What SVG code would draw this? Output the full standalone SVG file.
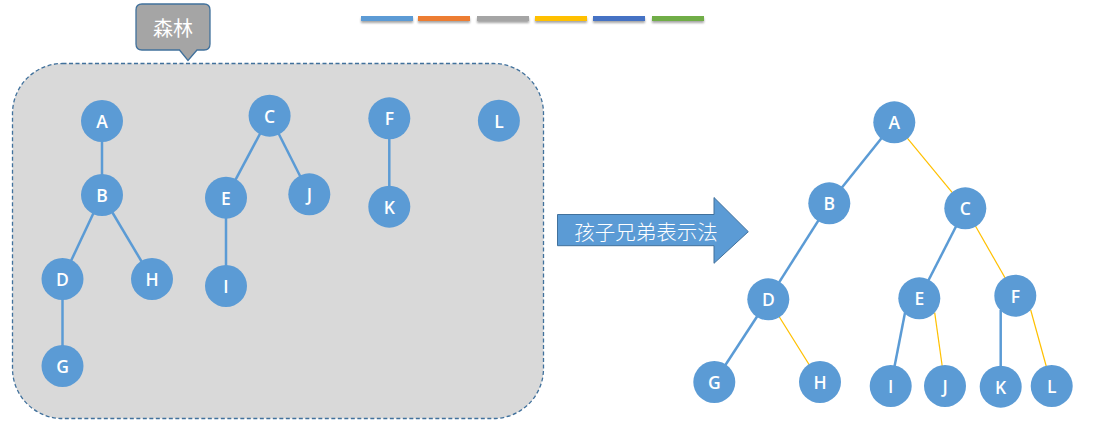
<svg xmlns="http://www.w3.org/2000/svg" width="1105" height="427" viewBox="0 0 1105 427">
<defs>
<style>
.n circle{fill:#5b9bd5;}
.n text{fill:#fff;font-family:"Open Sans","Liberation Sans",sans-serif;font-size:17.5px;font-weight:600;text-anchor:middle;dominant-baseline:central;}
.eb{stroke:#5b9bd5;stroke-width:2.5;fill:none;}
.ey{stroke:#ffc000;stroke-width:1.2;fill:none;}
.cjk{fill:#fff;font-family:"Noto Sans CJK SC","Liberation Sans",sans-serif;}
.bar{stroke:none;}
</style>
<filter id="sh" x="-10%" y="-50%" width="120%" height="250%">
<feDropShadow dx="0" dy="2" stdDeviation="1" flood-color="#000" flood-opacity="0.35"/>
</filter>
</defs>
<rect width="1105" height="427" fill="#fff"/>

<g id="legend" filter="url(#sh)">
<rect class="bar" x="361" y="16" width="52" height="5" fill="#5b9bd5"/>
<rect class="bar" x="418" y="16" width="52" height="5" fill="#ed7d31"/>
<rect class="bar" x="477" y="16" width="52" height="5" fill="#a5a5a5"/>
<rect class="bar" x="535" y="16" width="52" height="5" fill="#ffc000"/>
<rect class="bar" x="593" y="16" width="52" height="5" fill="#4472c4"/>
<rect class="bar" x="652" y="16" width="52" height="5" fill="#70ad47"/>
</g>

<g id="forest-panel">
<rect x="12.5" y="63.5" width="531" height="355" rx="50" ry="50" fill="#d9d9d9" stroke="#41719c" stroke-width="1.3" stroke-dasharray="4 2.5"/>
</g>

<g id="callout">
<path d="M142,4 H204 Q210,4 210,10 V44 Q210,50 204,50 H197 L188,60.5 L179.5,50 H142 Q136,50 136,44 V10 Q136,4 142,4 Z" fill="#a5a5a5" stroke="#41719c" stroke-width="1.3"/>
<text class="cjk" x="173" y="27" font-size="20" text-anchor="middle" dominant-baseline="central">森林</text>
</g>

<g id="arrow">
<path d="M557.5,214.5 H714 V197.5 L748.3,231.7 L714,263.3 V245.7 H557.5 Z" fill="#5b9bd5" stroke="#41719c" stroke-width="1"/>
<text class="cjk" x="646" y="231" font-size="20.5" font-weight="300" text-anchor="middle" dominant-baseline="central">孩子兄弟表示法</text>
</g>

<g id="connectors">
<line class="eb" x1="102" y1="121" x2="102" y2="195"/>
<line class="eb" x1="102" y1="195" x2="62.5" y2="279"/>
<line class="eb" x1="102" y1="195" x2="152" y2="279"/>
<line class="eb" x1="62.5" y1="279" x2="62.5" y2="366"/>
<line class="eb" x1="269.6" y1="115.7" x2="226" y2="197.7"/>
<line class="eb" x1="269.6" y1="115.7" x2="309.3" y2="194.3"/>
<line class="eb" x1="226" y1="197.7" x2="226" y2="286"/>
<line class="eb" x1="389.3" y1="118.3" x2="389.3" y2="206.7"/>

<line class="eb" x1="894.3" y1="122.3" x2="829.3" y2="203.3"/>
<line class="ey" x1="894.3" y1="122.3" x2="965.3" y2="208.3"/>
<line class="eb" x1="829.3" y1="203.3" x2="768.3" y2="299.3"/>
<line class="eb" x1="965.3" y1="208.3" x2="919.3" y2="298.3"/>
<line class="ey" x1="965.3" y1="208.3" x2="1015.3" y2="295.7"/>
<line class="eb" x1="768.3" y1="299.3" x2="714.3" y2="382"/>
<line class="ey" x1="768.3" y1="299.3" x2="820" y2="382"/>
<line class="eb" x1="905" y1="312.7" x2="890.7" y2="386"/>
<line class="ey" x1="934.7" y1="312.7" x2="945" y2="386"/>
<line class="eb" x1="1000.7" y1="310" x2="1000.7" y2="386.7"/>
<line class="ey" x1="1030.7" y1="310" x2="1051.7" y2="386"/>
</g>

<g id="lA" class="n"><circle cx="102" cy="121" r="21"/><text x="102" y="121">A</text></g>
<g id="lB" class="n"><circle cx="102" cy="195" r="21"/><text x="102" y="195">B</text></g>
<g id="lD" class="n"><circle cx="62.5" cy="279" r="21"/><text x="62.5" y="279">D</text></g>
<g id="lH" class="n"><circle cx="152" cy="279" r="21"/><text x="152" y="279">H</text></g>
<g id="lG" class="n"><circle cx="62.5" cy="366" r="21"/><text x="62.5" y="366">G</text></g>
<g id="lC" class="n"><circle cx="269.6" cy="115.7" r="21"/><text x="269.6" y="115.7">C</text></g>
<g id="lE" class="n"><circle cx="226" cy="197.7" r="21"/><text x="226" y="197.7">E</text></g>
<g id="lJ" class="n"><circle cx="309.3" cy="194.3" r="21"/><text x="309.3" y="194.3">J</text></g>
<g id="lI" class="n"><circle cx="226" cy="286" r="21"/><text x="226" y="286">I</text></g>
<g id="lF" class="n"><circle cx="389.3" cy="118.3" r="21"/><text x="389.3" y="118.3">F</text></g>
<g id="lK" class="n"><circle cx="389.3" cy="206.7" r="21"/><text x="389.3" y="206.7">K</text></g>
<g id="lL" class="n"><circle cx="498.9" cy="120.7" r="21"/><text x="498.9" y="120.7">L</text></g>

<g id="rA" class="n"><circle cx="894.3" cy="122.3" r="21"/><text x="894.3" y="122.3">A</text></g>
<g id="rB" class="n"><circle cx="829.3" cy="203.3" r="21"/><text x="829.3" y="203.3">B</text></g>
<g id="rC" class="n"><circle cx="965.3" cy="208.3" r="21"/><text x="965.3" y="208.3">C</text></g>
<g id="rD" class="n"><circle cx="768.3" cy="299.3" r="21"/><text x="768.3" y="299.3">D</text></g>
<g id="rE" class="n"><circle cx="919.3" cy="298.3" r="21"/><text x="919.3" y="298.3">E</text></g>
<g id="rF" class="n"><circle cx="1015.3" cy="295.7" r="21"/><text x="1015.3" y="295.7">F</text></g>
<g id="rG" class="n"><circle cx="714.3" cy="382" r="21"/><text x="714.3" y="382">G</text></g>
<g id="rH" class="n"><circle cx="820" cy="382" r="21"/><text x="820" y="382">H</text></g>
<g id="rI" class="n"><circle cx="890.7" cy="386" r="21"/><text x="890.7" y="386">I</text></g>
<g id="rJ" class="n"><circle cx="945" cy="386" r="21"/><text x="945" y="386">J</text></g>
<g id="rK" class="n"><circle cx="1000.7" cy="386.7" r="21"/><text x="1000.7" y="386.7">K</text></g>
<g id="rL" class="n"><circle cx="1051.7" cy="386" r="21"/><text x="1051.7" y="386">L</text></g>
</svg>
